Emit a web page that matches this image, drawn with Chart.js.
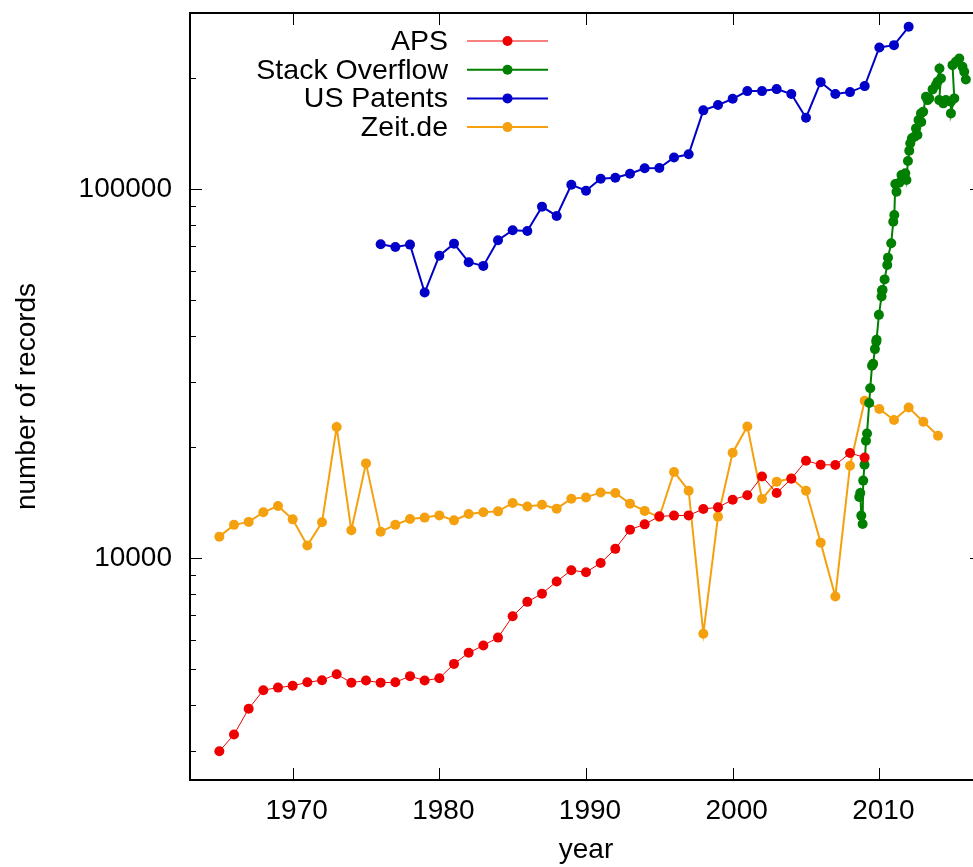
<!DOCTYPE html>
<html>
<head>
<meta charset="utf-8">
<script src="https://cdn.jsdelivr.net/npm/chart.js@4.4.1/dist/chart.umd.min.js"></script>
<style>
  html, body { margin: 0; padding: 0; overflow: hidden; background: #fff; }
  canvas { display: block; }
</style>
</head>
<body>
<canvas id="chart" width="990" height="867"></canvas>
<script>
// ---- data: yearly record counts per source ----
const apsYears = [1965,1966,1967,1968,1969,1970,1971,1972,1973,1974,1975,1976,1977,1978,1979,
  1980,1981,1982,1983,1984,1985,1986,1987,1988,1989,1990,1991,1992,1993,1994,1995,1996,1997,
  1998,1999,2000,2001,2002,2003,2004,2005,2006,2007,2008,2009];
const apsCounts = [2990,3320,3900,4380,4450,4500,4600,4660,4840,4590,4650,4590,4600,4780,4650,
  4720,5160,5530,5790,6080,6950,7600,8000,8630,9260,9140,9690,10580,11930,12330,12960,13020,13040,
  13570,13710,14380,14780,16630,15000,16390,18340,17890,17860,19240,18720];

const patentYears = [1976,1977,1978,1979,1980,1981,1982,1983,1984,1985,1986,1987,1988,1989,
  1990,1991,1992,1993,1994,1995,1996,1997,1998,1999,2000,2001,2002,2003,2004,2005,2006,2007,
  2008,2009,2010,2011,2012];
const patentCounts = [70830,69650,70670,52390,65980,71100,63320,61880,72620,77290,76960,89570,
  84530,102710,98950,106640,107310,110010,113770,114000,121800,124160,163380,168880,175610,
  184250,184250,186560,180860,156040,194860,180860,183110,190080,241940,245440,275200];

const zeitYears = [1965,1966,1967,1968,1969,1970,1971,1972,1973,1974,1975,1976,1977,1978,1979,
  1980,1981,1982,1983,1984,1985,1986,1987,1988,1989,1990,1991,1992,1993,1994,1995,1996,1997,
  1998,1999,2000,2001,2002,2003,2004,2005,2006,2007,2008,2009,2010,2011,2012,2013,2014];
const zeitCounts = [11420,12290,12520,13290,13830,12720,10800,12490,22630,11880,18040,11780,12290,
  12750,12860,13040,12640,13150,13290,13370,14090,13790,13940,13600,14470,14590,15050,15000,
  14030,13410,12910,17100,15210,6230,12940,19280,22720,14450,16090,16430,15210,11000,7860,
  17780,26670,25320,23640,25570,23390,21440];

// Stack Overflow is sampled monthly, so its time axis is fractional years
const soTimes = [2008.63,2008.70,2008.77,2008.86,2008.90,2008.99,2009.09,2009.16,2009.31,2009.38,
  2009.50,2009.58,2009.70,2009.79,2009.81,2009.97,2010.15,2010.18,2010.22,2010.36,2010.54,2010.59,
  2010.81,2010.95,2011.02,2011.09,2011.17,2011.36,2011.51,2011.77,2011.85,2011.95,2012.04,2012.11,
  2012.22,2012.38,2012.50,2012.60,2012.67,2012.84,2012.86,2012.99,2013.18,2013.29,2013.40,2013.63,
  2013.86,2013.97,2014.10,2014.20,2014.08,2014.36,2014.54,2014.88,2014.88,2015.11,2014.99,2015.22,
  2015.45,2015.67,2015.79,2015.90];
const soCounts = [14630,15000,13020,12360,16200,17890,20780,21750,26290,28830,33170,33590,36810,
  38530,39010,45590,51100,53040,53270,56880,62260,65160,71290,81550,85040,103160,98330,104010,
  109120,110280,105770,119080,126990,132960,137190,138570,146000,140040,153780,160320,151880,
  161940,177780,174180,176040,186210,191260,195230,212230,199450,174180,170670,174180,172370,
  160320,176040,216670,221160,225900,214400,207800,198150];

const xTicks = [1970, 1980, 1990, 2000, 2010];
const yTicks = [10000, 100000];
const yMinorTicks = [3000,4000,5000,6000,7000,8000,9000,
  20000,30000,40000,50000,60000,70000,80000,90000,200000];

const toPoints = (xs, ys) => xs.map((x, i) => ({ x: x, y: ys[i] }));

const FONT = 'Liberation Sans, Arial, Helvetica, sans-serif';
const FONT_SIZE = 28;

// frame with inward ticks on all four sides
const framePlugin = {
  id: 'frame',
  afterDatasetsDraw(chart) {
    const { ctx, chartArea: a, scales: { x, y } } = chart;
    ctx.save();
    ctx.strokeStyle = '#000';
    ctx.lineWidth = 1;
    ctx.beginPath();
    xTicks.forEach(v => {
      const px = Math.round(x.getPixelForValue(v)) + 0.5;
      ctx.moveTo(px, a.bottom); ctx.lineTo(px, a.bottom - 12);
      ctx.moveTo(px, a.top); ctx.lineTo(px, a.top + 12);
    });
    yTicks.forEach(v => {
      const py = Math.round(y.getPixelForValue(v)) + 0.5;
      ctx.moveTo(a.left, py); ctx.lineTo(a.left + 12, py);
      ctx.moveTo(a.right, py); ctx.lineTo(a.right - 12, py);
    });
    yMinorTicks.forEach(v => {
      const py = Math.round(y.getPixelForValue(v)) + 0.5;
      ctx.moveTo(a.left, py); ctx.lineTo(a.left + 6, py);
      ctx.moveTo(a.right, py); ctx.lineTo(a.right - 6, py);
    });
    ctx.stroke();
    ctx.lineWidth = 2;
    ctx.strokeRect(a.left, a.top, a.right - a.left, a.bottom - a.top);
    ctx.restore();
  }
};

// key in the upper left: label right-aligned, then a line sample with a marker
const keyPlugin = {
  id: 'key',
  afterDraw(chart) {
    const { ctx } = chart;
    const textRight = 448, lineStart = 467, lineEnd = 548, rowTop = 41, rowStep = 28.7;
    ctx.save();
    ctx.font = '28.5px ' + FONT;
    ctx.textAlign = 'right';
    ctx.textBaseline = 'middle';
    chart.data.datasets.forEach((ds, i) => {
      const cy = rowTop + i * rowStep;
      ctx.fillStyle = '#000';
      ctx.fillText(ds.label, textRight, cy + 1);
      ctx.strokeStyle = ds.borderColor;
      ctx.lineWidth = ds.borderWidth;
      ctx.beginPath();
      ctx.moveTo(lineStart, cy); ctx.lineTo(lineEnd, cy);
      ctx.stroke();
      ctx.fillStyle = ds.pointBackgroundColor;
      ctx.beginPath();
      ctx.arc((lineStart + lineEnd) / 2, cy, ds.pointRadius, 0, Math.PI * 2);
      ctx.fill();
    });
    ctx.restore();
  }
};

const series = (label, color, width, data) => ({
  label: label,
  data: data,
  borderColor: color,
  backgroundColor: color,
  pointBackgroundColor: color,
  pointBorderWidth: 0,
  pointRadius: 5,
  borderWidth: width,
  tension: 0,
  fill: false
});

new Chart(document.getElementById('chart'), {
  type: 'line',
  data: {
    datasets: [
      series('APS', '#ee0000', 1, toPoints(apsYears, apsCounts)),
      series('Stack Overflow', '#007f00', 2, toPoints(soTimes, soCounts)),
      series('US Patents', '#0000c8', 2, toPoints(patentYears, patentCounts)),
      series('Zeit.de', '#f5a10f', 2, toPoints(zeitYears, zeitCounts))
    ]
  },
  options: {
    responsive: false,
    animation: false,
    devicePixelRatio: 1,
    layout: { padding: { top: 13, right: 8, left: 0, bottom: 0 } },
    plugins: { legend: { display: false }, tooltip: { enabled: false } },
    scales: {
      x: {
        type: 'linear',
        min: 1963,
        max: 2017,
        afterFit(scale) {
          scale.height = 87;
          scale.paddingLeft = 0; scale.paddingRight = 0;
        },
        afterBuildTicks(scale) { scale.ticks = xTicks.map(v => ({ value: v })); },
        grid: { display: false, drawTicks: false },
        border: { display: false },
        ticks: {
          padding: 14,
          labelOffset: 4,
          color: '#000',
          font: { family: FONT, size: FONT_SIZE },
          maxRotation: 0,
          callback: v => String(v)
        },
        title: {
          display: true,
          text: 'year',
          color: '#000',
          font: { family: FONT, size: FONT_SIZE },
          padding: { top: 0, bottom: 0 }
        }
      },
      y: {
        type: 'logarithmic',
        min: 2500,
        max: 300000,
        afterFit(scale) {
          scale.width = 190;
          scale.paddingTop = 0; scale.paddingBottom = 0;
        },
        afterBuildTicks(scale) { scale.ticks = yTicks.map(v => ({ value: v })); },
        grid: { display: false, drawTicks: false },
        border: { display: false },
        ticks: {
          padding: 18,
          color: '#000',
          font: { family: FONT, size: FONT_SIZE },
          callback: v => String(v)
        },
        title: {
          display: true,
          text: 'number of records',
          color: '#000',
          font: { family: FONT, size: FONT_SIZE },
          padding: { top: 10, bottom: 0 }
        }
      }
    }
  },
  plugins: [framePlugin, keyPlugin]
});
</script>
</body>
</html>
